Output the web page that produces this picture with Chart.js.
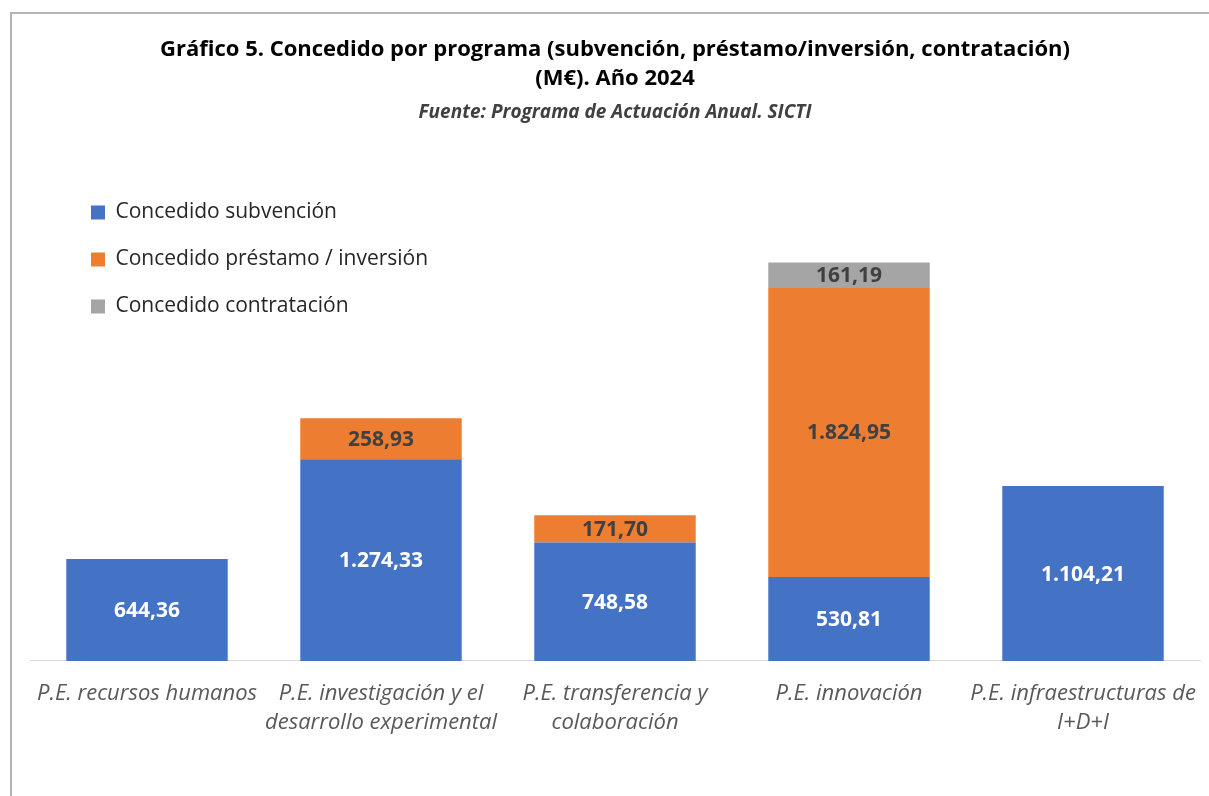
<!DOCTYPE html>
<html>
<head>
<meta charset="utf-8">
<script src="https://cdn.jsdelivr.net/npm/chart.js@4.4.1/dist/chart.umd.min.js"></script>
<style>
  html, body { margin: 0; padding: 0; background: #fff; overflow: hidden; }
  #marco { position: absolute; left: 10px; top: 12px; width: 1300px; height: 900px;
           border-top: 2px solid #b4b4b4; border-left: 2px solid #b4b4b4; }
  #wrap { position: absolute; left: 0; top: 0; width: 1209px; height: 796px; }
</style>
</head>
<body>
<div id="marco"></div>
<div id="wrap"><canvas id="grafico"></canvas></div>
<script>
// datos (M€)
const programas = [
  'P.E. recursos humanos',
  ['P.E. investigación y el', 'desarrollo experimental'],
  ['P.E. transferencia y', 'colaboración'],
  'P.E. innovación',
  ['P.E. infraestructuras de', 'I+D+I']
];
const subvencion = [644.36, 1274.33, 748.58, 530.81, 1104.21];
const prestamo   = [null, 258.93, 171.70, 1824.95, null];
const contratacion = [null, null, null, 161.19, null];
const series = ['Concedido subvención', 'Concedido préstamo / inversión', 'Concedido contratación'];

const FUENTE = '"Open Sans"';

// formato español: 1.274,33
function fmt(v) {
  let [ent, dec] = v.toFixed(2).split('.');
  ent = ent.replace(/\B(?=(\d{3})+(?!\d))/g, '.');
  return ent + ',' + dec;
}

// etiquetas de datos dentro de cada tramo
const etiquetas = {
  id: 'etiquetas',
  afterDatasetsDraw(chart) {
    const ctx = chart.ctx;
    ctx.save();
    ctx.font = 'bold 21px ' + FUENTE;
    ctx.textAlign = 'center';
    ctx.textBaseline = 'middle';
    chart.data.datasets.forEach((ds, i) => {
      const meta = chart.getDatasetMeta(i);
      meta.data.forEach((bar, j) => {
        const v = ds.data[j];
        if (v == null) return;
        ctx.fillStyle = i === 0 ? '#ffffff' : '#404040';
        ctx.fillText(fmt(v), bar.x, (bar.y + bar.base) / 2 + 1);
      });
    });
    ctx.restore();
  }
};

// la leyenda va dentro del área, arriba a la izquierda
const moverLeyenda = {
  id: 'moverLeyenda',
  afterLayout(chart) {
    const a = chart.chartArea;
    chart.legend.left = a.left + 35;
    chart.legend.top = a.top - 10;
    chart.legend.bottom = a.bottom;
  }
};

new Chart('grafico', {
  type: 'bar',
  data: {
    labels: programas,
    datasets: [
      { label: series[0], data: subvencion, backgroundColor: '#4472C4', borderWidth: 0 },
      { label: series[1], data: prestamo, backgroundColor: '#ED7D31', borderWidth: 0 },
      { label: series[2], data: contratacion, backgroundColor: '#A5A5A5', borderWidth: 0 }
    ]
  },
  options: {
    responsive: true,
    maintainAspectRatio: false,
    animation: false,
    layout: { padding: { left: 30, right: 9, top: 0, bottom: 49 } },
    datasets: { bar: { categoryPercentage: 1, barPercentage: 0.69 } },
    plugins: {
      title: {
        display: true,
        text: ['Gráfico 5. Concedido por programa (subvención, préstamo/inversión, contratación)', '(M€). Año 2024'],
        color: '#000',
        font: { family: FUENTE, size: 22, weight: 'bold', lineHeight: 1.318 },
        padding: { top: 35, bottom: 8.6 }
      },
      subtitle: {
        display: true,
        text: 'Fuente: Programa de Actuación Anual. SICTI',
        color: '#404040',
        font: { family: FUENTE, size: 19, weight: 'bold', style: 'italic', lineHeight: 1.2 },
        padding: { top: 0, bottom: 61.6 }
      },
      legend: {
        position: 'chartArea',
        align: 'start',
        labels: {
          boxWidth: 14, boxHeight: 14, padding: 26, color: '#262626',
          font: { family: FUENTE, size: 21 }
        }
      },
      tooltip: { enabled: false }
    },
    scales: {
      x: {
        stacked: true,
        grid: { display: false },
        border: { display: true, color: '#d9d9d9', width: 1 },
        ticks: {
          color: '#595959', padding: 10, maxRotation: 0, autoSkip: false,
          font: { family: FUENTE, size: 22, style: 'italic', lineHeight: 1.32 }
        }
      },
      y: {
        stacked: true, display: false, min: 0, max: 3000
      }
    }
  },
  plugins: [etiquetas, moverLeyenda]
});
</script>
</body>
</html>
